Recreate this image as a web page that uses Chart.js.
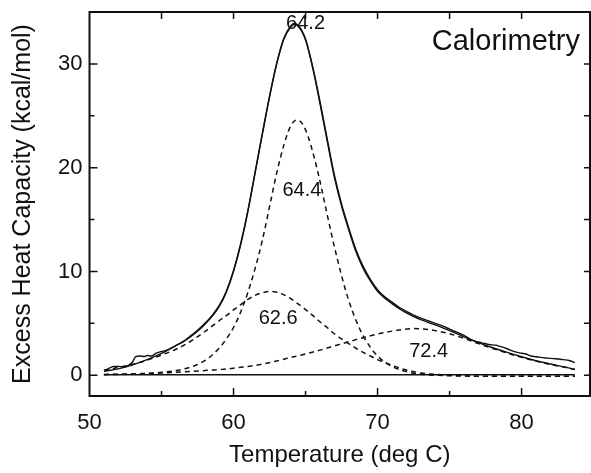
<!DOCTYPE html>
<html>
<head>
<meta charset="utf-8">
<script src="https://cdn.jsdelivr.net/npm/chart.js@4"></script>
<style>
  html, body { margin: 0; padding: 0; background: #fff; }
  #wrap { width: 591px; height: 473px; }
</style>
</head>
<body>
<div id="wrap"><canvas id="dsc"></canvas></div>
<script>
// measured excess heat capacity trace
const measT = [51.1, 51.4, 51.7, 52.0, 52.4, 52.7, 53.0, 53.2, 53.5, 53.8, 54.0, 54.3, 54.6, 54.9, 55.2, 55.5, 55.8, 56.1, 56.5, 57.0,
  57.5, 58.0, 58.5, 59.0, 59.5, 60.0, 60.5, 61.0, 61.5, 62.0, 62.5, 63.0, 63.5, 64.0, 64.2, 64.5, 65.0, 65.5, 66.0, 66.5,
  67.0, 67.5, 68.0, 68.5, 69.0, 69.5, 70.0, 70.5, 71.0, 71.5, 72.0, 72.5, 73.0, 73.5, 74.0, 74.5, 75.0, 75.5, 76.0, 76.6,
  77.0, 77.3, 77.8, 78.2, 78.5, 79.0, 79.4, 80.0, 80.3, 80.6, 81.0, 81.3, 81.8, 82.2, 82.6, 82.9, 83.3, 83.7];
const measCp = [0.45, 0.7, 0.85, 0.85, 0.8, 0.95, 1.3, 1.8, 1.85, 1.8, 1.9, 1.85, 2.1, 2.25, 2.35, 2.5, 2.7, 2.95, 3.2, 3.78,
  4.33, 4.98, 5.75, 6.7, 8.1, 10.1, 12.7, 15.9, 19.6, 23.3, 26.9, 30.1, 32.5, 33.7, 33.9, 33.7, 32.4, 29.7, 26.4, 22.8,
  19.3, 16.5, 14.2, 12.1, 10.5, 9.25, 8.25, 7.55, 7.05, 6.55, 6.15, 5.8, 5.5, 5.25, 5.0, 4.75, 4.45, 4.15, 3.85, 3.35,
  3.2, 3.1, 2.95, 2.9, 2.78, 2.55, 2.32, 2.12, 2.05, 1.88, 1.78, 1.72, 1.65, 1.6, 1.56, 1.5, 1.42, 1.22];

// sum of the fitted transitions
const fitT = [51, 52, 53, 54, 55, 56, 57, 57.5, 58, 58.5, 59, 59.5, 60, 60.5, 61, 61.5, 62, 62.5, 63, 63.5,
  64, 64.2, 64.5, 65, 65.5, 66, 66.5, 67, 67.5, 68, 68.5, 69, 69.5, 70, 71, 72, 73, 74, 75, 76,
  77, 78, 79, 80, 81, 82, 83, 83.7];
const fitCp = [0.38, 0.62, 1.0, 1.5, 2.1, 2.85, 3.7, 4.25, 4.9, 5.65, 6.6, 8.0, 10.0, 12.6, 15.8, 19.5, 23.2, 26.8, 30.0, 32.4,
  33.6, 33.8, 33.6, 32.3, 29.6, 26.2, 22.6, 19.1, 16.3, 14.0, 11.9, 10.3, 9.1, 8.1, 6.9, 6.0, 5.35, 4.85, 4.3, 3.7,
  3.15, 2.65, 2.2, 1.78, 1.4, 1.08, 0.8, 0.55];

// individual transitions (dashed)
const compT = [51, 52, 53, 54, 55, 56, 57, 58, 59, 59.5, 60, 60.5, 61, 61.5, 62, 62.6, 63, 63.5, 64, 64.4,
  64.8, 65.2, 65.6, 66, 66.5, 67, 67.5, 68, 68.5, 69, 69.5, 70, 71, 72, 72.4, 73, 74, 75, 76, 77,
  78, 79, 80, 81, 82, 83, 83.7];
const band644 = [0.05, 0.08, 0.12, 0.18, 0.28, 0.45, 0.78, 1.4, 2.6, 3.5, 4.6, 6.1, 8.0, 10.3, 13.0, 16.9, 19.5, 22.2, 24.1, 24.6,
  24.2, 22.9, 21.0, 18.7, 15.5, 12.4, 9.6, 7.2, 5.3, 3.8, 2.7, 1.85, 0.85, 0.35, 0.22, 0.1, 0.0, -0.05, -0.08, -0.1,
  -0.1, -0.1, -0.1, -0.1, -0.1, -0.1, -0.1];
const band626 = [0.5, 0.75, 1.05, 1.45, 1.95, 2.5, 3.25, 4.2, 5.25, 5.75, 6.3, 6.8, 7.3, 7.7, 7.95, 8.08, 8.0, 7.75, 7.35, 6.95,
  6.55, 6.1, 5.65, 5.15, 4.6, 4.0, 3.5, 3.05, 2.6, 2.2, 1.85, 1.5, 0.95, 0.5, 0.38, 0.22, 0.08, 0.0, -0.05, -0.1,
  -0.1, -0.1, -0.1, -0.1, -0.1, -0.1, -0.1];
const band724 = [0.08, 0.1, 0.13, 0.17, 0.22, 0.28, 0.36, 0.45, 0.55, 0.6, 0.68, 0.76, 0.85, 0.95, 1.07, 1.25, 1.38, 1.55, 1.72, 1.85,
  1.98, 2.12, 2.27, 2.42, 2.62, 2.83, 3.03, 3.23, 3.43, 3.62, 3.8, 3.97, 4.25, 4.45, 4.5, 4.47, 4.3, 4.0, 3.55, 3.05,
  2.58, 2.13, 1.72, 1.36, 1.04, 0.76, 0.55];

// baseline
const baseT = [51, 83.7];
const baseCp = [0.05, 0.05];

// peak temperatures written next to the curves
const peakT = [64.2, 64.4, 62.6, 72.4];
const peakLabelAt = [[65.0, 33.9], [64.75, 17.8], [63.1, 5.5], [73.55, 2.25]];

const xTicks = [50, 60, 70, 80];
const yTicks = [0, 10, 20, 30];

const ink = '#111';
const fontFamily = '"Liberation Sans", Arial, sans-serif';
const pts = (xs, ys) => xs.map((t, i) => ({ x: t, y: ys[i] }));

function line(xs, ys, dashed) {
  return {
    data: pts(xs, ys),
    borderColor: ink,
    borderWidth: dashed ? 1.5 : 1.4,
    borderDash: dashed ? [5, 4] : [],
    pointRadius: 0,
    fill: false,
    cubicInterpolationMode: 'monotone'
  };
}

// box with inward ticks, plus the text labels
const frame = {
  id: 'frame',
  afterDraw(chart) {
    const { ctx, chartArea: a, scales: { x, y } } = chart;
    ctx.save();
    ctx.strokeStyle = ink;
    ctx.lineWidth = 2;
    ctx.strokeRect(a.left, a.top, a.right - a.left, a.bottom - a.top);

    ctx.lineWidth = 1.5;
    ctx.beginPath();
    for (let t = 55; t < x.max; t += 5) {
      const px = x.getPixelForValue(t);
      const len = t % 10 === 0 ? 8 : 5;
      ctx.moveTo(px, a.bottom); ctx.lineTo(px, a.bottom - len);
      ctx.moveTo(px, a.top); ctx.lineTo(px, a.top + 7);
    }
    for (let v = 0; v < y.max; v += 5) {
      const py = y.getPixelForValue(v);
      const len = v % 10 === 0 ? 8 : 5;
      ctx.moveTo(a.left, py); ctx.lineTo(a.left + len, py);
      ctx.moveTo(a.right, py); ctx.lineTo(a.right - 6, py);
    }
    ctx.stroke();

    ctx.fillStyle = ink;
    ctx.textAlign = 'center';
    ctx.textBaseline = 'middle';
    ctx.font = '20px ' + fontFamily;
    peakT.forEach((t, i) => {
      const [lx, ly] = peakLabelAt[i];
      ctx.fillText(t.toFixed(1), x.getPixelForValue(lx), y.getPixelForValue(ly));
    });

    ctx.textAlign = 'right';
    ctx.font = '29px ' + fontFamily;
    ctx.fillText('Calorimetry', a.right - 10, a.top + 30);
    ctx.restore();
  }
};

new Chart(document.getElementById('dsc'), {
  type: 'line',
  data: {
    datasets: [
      line(baseT, baseCp, false),
      line(compT, band644, true),
      line(compT, band626, true),
      line(compT, band724, true),
      line(fitT, fitCp, false),
      line(measT, measCp, false)
    ]
  },
  options: {
    responsive: true,
    maintainAspectRatio: false,
    animation: false,
    events: [],
    layout: { padding: { top: 12, right: 1, left: 0, bottom: 0 } },
    plugins: { legend: { display: false }, tooltip: { enabled: false } },
    scales: {
      x: {
        type: 'linear',
        min: 50,
        max: 84.75,
        afterBuildTicks: (axis) => { axis.ticks = xTicks.map(v => ({ value: v })); },
        afterFit: (axis) => {
          axis.height = 77;
          axis.paddingLeft = 0;
          axis.paddingRight = 0;
        },
        grid: { display: false, drawTicks: false },
        border: { display: false },
        ticks: {
          color: ink,
          padding: 14,
          maxRotation: 0,
          font: { family: fontFamily, size: 22 }
        },
        title: {
          display: true,
          text: 'Temperature (deg C)',
          color: ink,
          padding: { top: 0, bottom: 3 },
          font: { family: fontFamily, size: 24 }
        }
      },
      y: {
        min: -2,
        max: 35,
        afterBuildTicks: (axis) => { axis.ticks = yTicks.map(v => ({ value: v })); },
        afterFit: (axis) => {
          axis.width = 89.5;
          axis.paddingTop = 0;
          axis.paddingBottom = 0;
        },
        grid: { display: false, drawTicks: false },
        border: { display: false },
        ticks: {
          color: ink,
          padding: 7,
          font: { family: fontFamily, size: 22 }
        },
        title: {
          display: true,
          text: 'Excess Heat Capacity (kcal/mol)',
          color: ink,
          padding: { top: 8, bottom: 0 },
          font: { family: fontFamily, size: 25 }
        }
      }
    }
  },
  plugins: [frame]
});
</script>
</body>
</html>
